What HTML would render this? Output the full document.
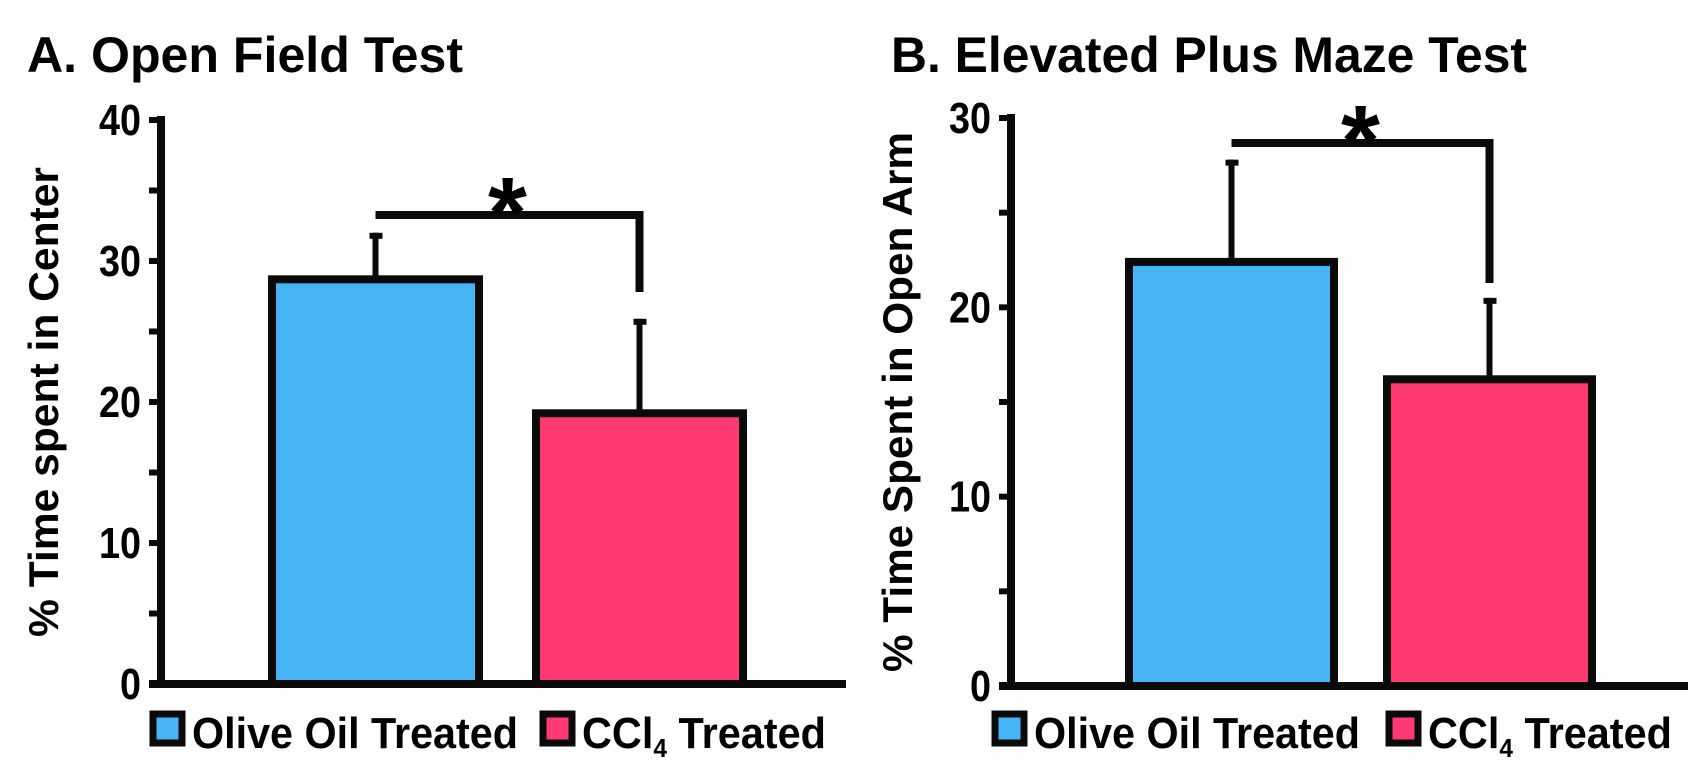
<!DOCTYPE html>
<html><head><meta charset="utf-8"><style>
html,body{margin:0;padding:0;background:#fff;}
svg{display:block;font-family:"Liberation Sans",Arial,sans-serif;font-weight:bold;}
</style></head><body>
<svg id="chart" width="1707" height="780" viewBox="0 0 1707 780" xmlns="http://www.w3.org/2000/svg"></svg>
<script>
const categories = ["Olive Oil Treated", "CCl4 Treated"];
const valuesA = [28.7, 19.2];
const errorsA = [3.3, 6.7];
const valuesB = [22.4, 16.2];
const errorsB = [5.4, 4.3];
const ticksA = [0, 10, 20, 30, 40];
const ticksB = [0, 10, 20, 30];
const colors = ["#47b5f5", "#fe3a70"];

const NS = "http://www.w3.org/2000/svg";
const svg = document.getElementById("chart");
function mk(tag, attrs, parent) {
  const e = document.createElementNS(NS, tag);
  for (const k in attrs) e.setAttribute(k, attrs[k]);
  (parent || svg).appendChild(e);
  return e;
}

function drawPanel(p) {
  const g = mk("g", {});
  
  
  const y = v => p.y0 - (v / p.max) * (p.y0 - p.yTop);
  const t = mk("text", {x: p.titleX, y: 72, "font-size": 50, textLength: p.titleW, lengthAdjust: "spacingAndGlyphs"}, g);
  t.textContent = p.title;
  
  
  const yl = mk("text", {x: 0, y: 0, "font-size": 42, "text-anchor": "middle", transform: `translate(${p.ylabX},${(p.yTop + p.y0) / 2}) rotate(-90)`, textLength: p.ylabW, lengthAdjust: "spacingAndGlyphs"}, g);
  yl.textContent = p.ylab;
  
  
  p.values.forEach((v, i) => {
    const x = p.barX[i];
    const top = y(v), etop = y(v + p.errors[i]);
    const cx = x + p.barW / 2;
    const el = mk("line", {x1: cx, x2: cx, y1: top, y2: etop, stroke: "#0a0a0a", "stroke-width": 6}, g);
    
    
    const cap = mk("line", {x1: cx - 6, x2: cx + 7, y1: etop + 3, y2: etop + 3, stroke: "#0a0a0a", "stroke-width": 6}, g);
    
    
    const r = mk("rect", {x: x, y: top, width: p.barW, height: p.y0 - top, fill: colors[i], stroke: "#0a0a0a", "stroke-width": 8}, g);
    
    
  });
  const ya = mk("line", {x1: p.ax, x2: p.ax, y1: p.yTop - 4, y2: p.y0 + 4, stroke: "#0a0a0a", "stroke-width": 8}, g);
  
  
  const xa = mk("line", {x1: p.ax - 12, x2: p.axEnd, y1: p.y0, y2: p.y0, stroke: "#0a0a0a", "stroke-width": 8}, g);
  
  
  for (let v = 0; v <= p.max; v += 5) {
    const tk = mk("line", {x1: p.ax - 12, x2: p.ax, y1: y(v), y2: y(v), stroke: "#0a0a0a", "stroke-width": 6}, g);
    
    
  }
  p.ticks.forEach(v => {
    const tl = mk("text", {x: p.ax - 20, y: y(v) + 15, "font-size": 44, "text-anchor": "end", textLength: String(v).length * 21, lengthAdjust: "spacingAndGlyphs"}, g);
    tl.textContent = v;
    
    
  });
  const bx1 = p.barX[0] + p.barW / 2, bx2 = p.barX[1] + p.barW / 2;
  const br = mk("polyline", {points: `${bx1},${p.brY} ${bx2},${p.brY} ${bx2},${p.brEnd}`, fill: "none", stroke: "#0a0a0a", "stroke-width": 8}, g);
  
  
  const st = mk("text", {x: (bx1 + bx2) / 2, y: p.brY + 32, "font-size": 100, "text-anchor": "middle"}, g);
  st.textContent = "*";
  
  
  const ly = 732;
  [0, 1].forEach(i => {
    const lx = p.legX[i];
    const sq = mk("rect", {x: lx + 3, y: ly - 18, width: 29, height: 29, fill: colors[i], stroke: "#0a0a0a", "stroke-width": 7}, g);
    
    
    const lt = mk("text", {x: lx + 42, y: ly + 16, "font-size": 44}, g);
    if (i === 0) {
      lt.setAttribute("textLength", 326); lt.setAttribute("lengthAdjust", "spacingAndGlyphs");
      lt.textContent = categories[0];
    } else {
      const a = mk("tspan", {}, lt); a.textContent = "CCl";
      const b = mk("tspan", {"font-size": 26, dy: 9}, lt); b.textContent = "4";
      const c = mk("tspan", {dy: -9}, lt); c.textContent = " Treated";
      lt.setAttribute("textLength", 244); lt.setAttribute("lengthAdjust", "spacingAndGlyphs");
    }
    
    
  });
}

drawPanel({id: "panel-a", title: "A. Open Field Test", titleX: 27, titleW: 436,
  ylab: "% Time spent in Center", ylabX: 58, ylabW: 470,
  values: valuesA, errors: errorsA, ticks: ticksA, max: 40,
  ax: 161, axEnd: 846, yTop: 120, y0: 684, barX: [272, 536], barW: 207,
  brY: 215, brEnd: 292, legX: [150, 540]});
drawPanel({id: "panel-b", title: "B. Elevated Plus Maze Test", titleX: 891, titleW: 636,
  ylab: "% Time Spent in Open Arm", ylabX: 912, ylabW: 540,
  values: valuesB, errors: errorsB, ticks: ticksB, max: 30,
  ax: 1011, axEnd: 1688, yTop: 118, y0: 686, barX: [1129, 1387], barW: 205,
  brY: 143, brEnd: 283, legX: [992, 1386]});
</script>
</body></html>
